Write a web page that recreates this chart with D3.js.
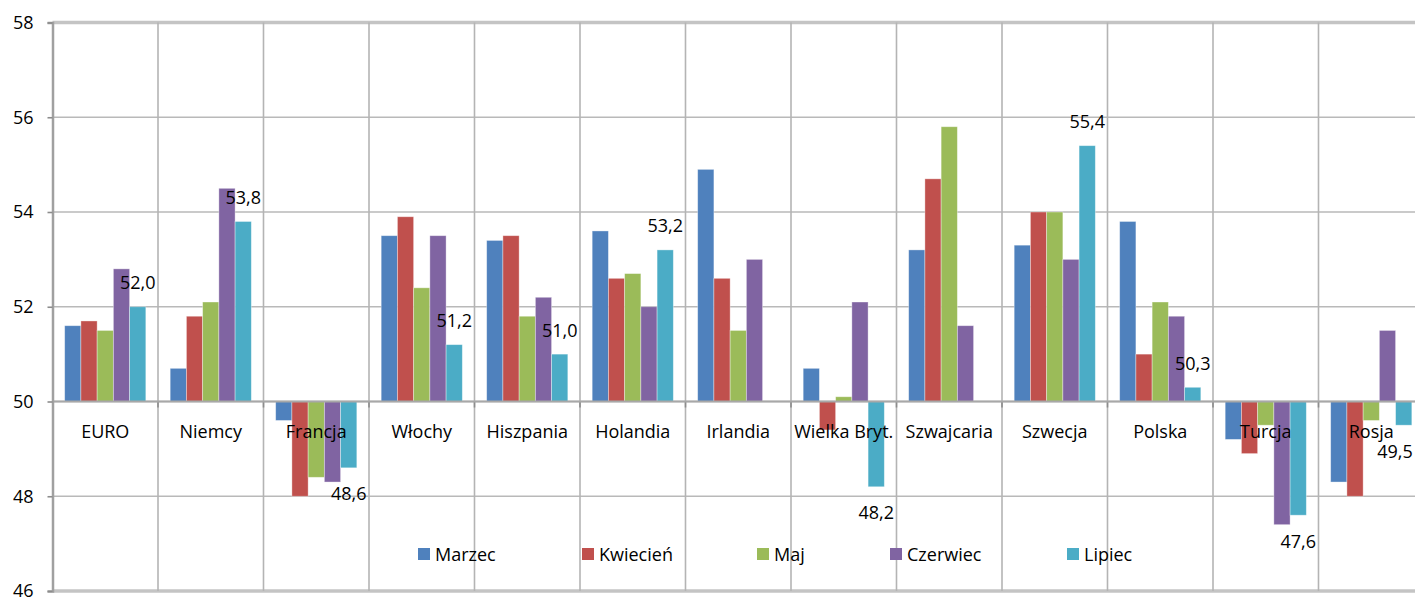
<!DOCTYPE html>
<html>
<head>
<meta charset="utf-8">
<script src="https://cdn.jsdelivr.net/npm/d3@7"></script>
<style>
  body { margin: 0; background: #fff; }
  svg { display: block; font-family: "Open Sans", sans-serif; }
</style>
</head>
<body>
<div id="main"></div>
<script>
var categories = ["EURO", "Niemcy", "Francja", "Włochy", "Hiszpania", "Holandia", "Irlandia",
    "Wielka Bryt.", "Szwajcaria", "Szwecja", "Polska", "Turcja", "Rosja"];
var seriesNames = ["Marzec", "Kwiecień", "Maj", "Czerwiec", "Lipiec"];
var marzec = [51.6, 50.7, 49.6, 53.5, 53.4, 53.6, 54.9, 50.7, 53.2, 53.3, 53.8, 49.2, 48.3];
var kwiecien = [51.7, 51.8, 48.0, 53.9, 53.5, 52.6, 52.6, 49.4, 54.7, 54.0, 51.0, 48.9, 48.0];
var maj = [51.5, 52.1, 48.4, 52.4, 51.8, 52.7, 51.5, 50.1, 55.8, 54.0, 52.1, 49.5, 49.6];
var czerwiec = [52.8, 54.5, 48.3, 53.5, 52.2, 52.0, 53.0, 52.1, 51.6, 53.0, 51.8, 47.4, 51.5];
var lipiec = [52.0, 53.8, 48.6, 51.2, 51.0, 53.2, null, 48.2, null, 55.4, 50.3, 47.6, 49.5];
var yTicks = [46, 48, 50, 52, 54, 56, 58];
var colors = ["#4F81BD", "#C0504D", "#9BBB59", "#8064A2", "#4BACC6"];

const width = 1415;
const height = 597;
const plotLeft = 52.5;
const plotTop = 22.5;
const plotBottom = 591;
const step = 105.5;
const baseline = 50;
// legend entries are not evenly spread in the original
var legendX = [418, 582, 757, 890, 1067];

var seriesValues = [marzec, kwiecien, maj, czerwiec, lipiec];
var data = [];
seriesValues.forEach((vals, s) => {
    vals.forEach((v, i) => {
        if (v !== null) data.push({ cat: categories[i], series: seriesNames[s], value: v, s: s });
    });
});

const svg = d3.select("#main")
    .append("svg")
    .attr("width", width)
    .attr("height", height);

const x0 = d3.scaleBand()
    .domain(categories)
    .range([plotLeft, plotLeft + step * categories.length])
    .padding(0);

const barW = x0.bandwidth() / 6.5;
const x1 = d3.scaleBand()
    .domain(seriesNames)
    .range([barW * 0.75, barW * 5.75])
    .padding(0);

const y = d3.scaleLinear()
    .domain([46, 58])
    .range([plotBottom, plotTop]);

// horizontal gridlines
svg.append("g")
    .selectAll("line")
    .data(yTicks)
    .enter()
    .append("line")
    .attr("x1", plotLeft)
    .attr("x2", width)
    .attr("y1", (d) => y(d))
    .attr("y2", (d) => y(d))
    .style("stroke", (d) => (d == 58 || d == 46) ? "#c4c4c4" : "#b9b9b9")
    .style("stroke-width", (d) => (d == 58 || d == 46) ? 3.5 : 1.6);

// vertical gridlines at category boundaries
svg.append("g")
    .selectAll("line")
    .data(categories.slice(1))
    .enter()
    .append("line")
    .attr("x1", (d) => x0(d))
    .attr("x2", (d) => x0(d))
    .attr("y1", plotTop)
    .attr("y2", plotBottom)
    .style("stroke", "#b4b4b4")
    .style("stroke-width", 1.6);

// small tick marks on the category axis
svg.append("g")
    .selectAll("line")
    .data(categories.slice(1))
    .enter()
    .append("line")
    .attr("x1", (d) => x0(d))
    .attr("x2", (d) => x0(d))
    .attr("y1", y(baseline))
    .attr("y2", y(baseline) + 6)
    .style("stroke", "#8c8c8c")
    .style("stroke-width", 1.6);

// bars
svg.append("g")
    .selectAll("rect")
    .data(data)
    .enter()
    .append("rect")
    .attr("x", (d) => x0(d.cat) + x1(d.series))
    .attr("y", (d) => Math.min(y(d.value), y(baseline)))
    .attr("width", x1.bandwidth())
    .attr("height", (d) => Math.abs(y(d.value) - y(baseline)))
    .style("fill", (d) => colors[d.s])
    .style("stroke", "rgba(255,255,255,0.45)")
    .style("stroke-width", 0.8);

// value labels for Lipiec (kept inside the picture at the right edge)
svg.append("g")
    .selectAll("text")
    .data(data.filter((d) => d.series == "Lipiec"))
    .enter()
    .append("text")
    .attr("x", (d) => Math.min(x0(d.cat) + x1(d.series) + x1.bandwidth() / 2, width - 20))
    .attr("y", (d) => d.value >= baseline ? y(d.value) - 17.5 : y(d.value) + 32.5)
    .attr("text-anchor", "middle")
    .style("font-size", "18px")
    .style("fill", "#000")
    .text((d) => d.value.toFixed(1).replace(".", ","));

// axis line at 50
svg.append("line")
    .attr("x1", plotLeft)
    .attr("x2", width)
    .attr("y1", y(baseline))
    .attr("y2", y(baseline))
    .style("stroke", "#a8a8a8")
    .style("stroke-width", 2);

// category labels
svg.append("g")
    .selectAll("text")
    .data(categories)
    .enter()
    .append("text")
    .attr("x", (d) => x0(d) + x0.bandwidth() / 2)
    .attr("y", y(baseline) + 36)
    .attr("text-anchor", "middle")
    .style("font-size", "18px")
    .style("fill", "#000")
    .text((d) => d);

// value axis
const yAxis = d3.axisLeft(y)
    .tickValues(yTicks)
    .tickSize(5)
    .tickPadding(14)
    .tickFormat(d3.format("d"));

const yG = svg.append("g")
    .attr("transform", "translate(" + plotLeft + ",0)")
    .call(yAxis);
yG.select(".domain").style("stroke", "#a0a0a0").style("stroke-width", 2.5);
yG.selectAll(".tick line").style("stroke", "#8c8c8c").style("stroke-width", 1.6);
yG.selectAll(".tick text")
    .style("font-size", "18px")
    .style("font-family", "'Open Sans', sans-serif")
    .style("fill", "#000");

// legend
const legend = svg.append("g")
    .selectAll("g")
    .data(seriesNames)
    .enter()
    .append("g")
    .attr("transform", (d, i) => "translate(" + legendX[i] + ",548)");

legend.append("rect")
    .attr("width", 12)
    .attr("height", 12)
    .style("fill", (d, i) => colors[i]);

legend.append("text")
    .attr("x", 17)
    .attr("y", 12.5)
    .style("font-size", "18px")
    .style("fill", "#000")
    .text((d) => d);
</script>
</body>
</html>
